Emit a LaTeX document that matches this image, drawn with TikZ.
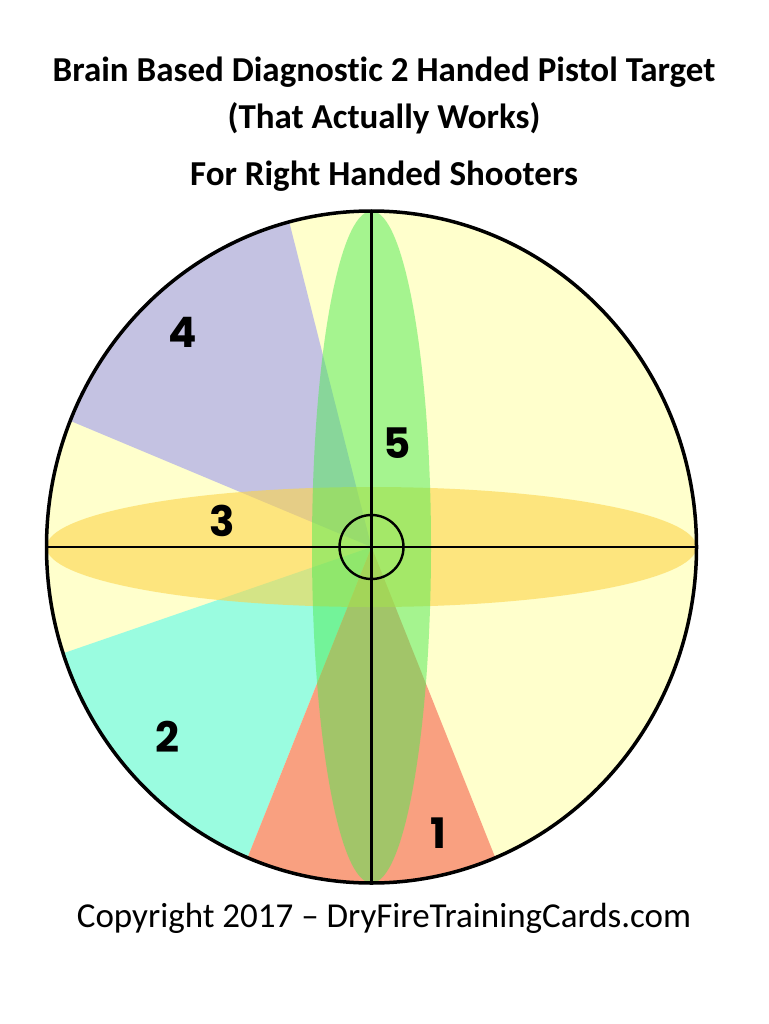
\documentclass[tikz,border=0pt]{standalone}
\usepackage{fontspec}
\setmainfont{Carlito}[Ligatures=NoCommon]
\newfontfamily\numfont{Poppins}
\usetikzlibrary{calc}
\definecolor{bgyellow}{HTML}{FFFFCC}
\definecolor{wpurple}{HTML}{C4C2E2}
\definecolor{wcyan}{HTML}{9AFCE0}
\definecolor{wred}{HTML}{F9A080}
\definecolor{eyellow}{HTML}{FCD54A}
\definecolor{egreen}{HTML}{4DEB54}
\tikzset{
  numlabel/.style={font=\numfont\bfseries\fontsize{42}{46}\selectfont, inner sep=0pt},
  titletext/.style={font=\bfseries\fontsize{35}{40}\selectfont, inner sep=0pt},
  foottext/.style={font=\fontsize{35}{40}\selectfont, inner sep=0pt},
  crossline/.style={line width=2.2pt, black}
}
\begin{document}
\begin{tikzpicture}[x=1pt,y=-1pt]
\useasboundingbox (0,0) rectangle (768,1024);
\fill[white] (0,0) rectangle (768,1024);
\coordinate (c) at (371.5,547);
\coordinate (L) at (46.5,547);
\coordinate (R) at (696.5,547);
\coordinate (T) at (371.5,211);
\coordinate (B) at (371.5,883);
\begin{scope}
  \clip (c) ellipse [x radius=325, y radius=336];
  \fill[bgyellow] (c) ellipse [x radius=325, y radius=336];
  \fill[wpurple] (c) -- ($(c)!2.2!(290,225)$) -- ($(c)!2.2!(73,422)$) -- cycle;
  \fill[wcyan] (c) -- ($(c)!2.2!(67,652)$) -- ($(c)!2.2!(249,854)$) -- cycle;
  \fill[wred] (c) -- ($(c)!2.2!(249,854)$) -- ($(c)!2.2!(495,857)$) -- cycle;
  \fill[eyellow, opacity=0.6] (c) ellipse [x radius=325, y radius=60];
  \fill[egreen, opacity=0.5] (c) ellipse [x radius=59.5, y radius=336];
\end{scope}
\draw[crossline] (L) -- (R);
\draw[crossline] (T) -- (B);
\draw[line width=2.4pt] (c) circle [radius=32];
\draw[line width=3.5pt] (c) ellipse [x radius=325, y radius=336];
\node[numlabel] (n4) at (183,332) {4};
\node[numlabel] (n5) at (397,443) {5};
\node[numlabel] (n3) at (222,521) {3};
\node[numlabel] (n2) at (167,737) {2};
\node[numlabel] (n1) at (438,833) {1};
\node[titletext] (t1) at (384,72) {Brain Based Diagnostic 2 Handed Pistol Target};
\node[titletext] (t2) at (384,118) {(That Actually Works)};
\node[titletext] (t3) at (384,176) {For Right Handed Shooters};
\node[foottext] (f1) at (384,918) {Copyright 2017 – DryFireTrainingCards.com};
\end{tikzpicture}
\end{document}
